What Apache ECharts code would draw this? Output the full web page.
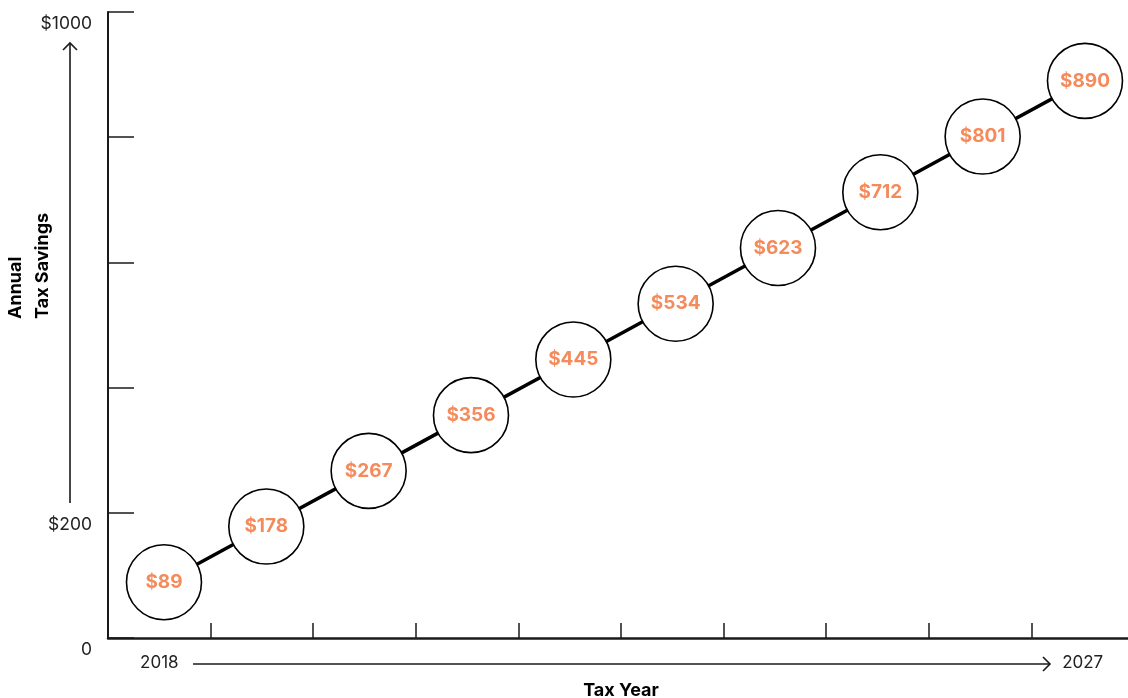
<!DOCTYPE html>
<html>
<head>
<meta charset="utf-8">
<script src="https://cdn.jsdelivr.net/npm/echarts@6/dist/echarts.min.js"></script>
<style>
html,body{margin:0;padding:0;background:#fff;}
#chart{width:1128px;height:698px;}
</style>
</head>
<body>
<div id="chart"></div>
<script>
// ---- data ----
const years = [2018, 2019, 2020, 2021, 2022, 2023, 2024, 2025, 2026, 2027];
const savings = [89, 178, 267, 356, 445, 534, 623, 712, 801, 890];
const yTickLabels = { 0: '0', 200: '$200', 1000: '$1000' };
const xTickLabels = { 2018: '2018', 2027: '2027' };
const xTitle = 'Tax Year';
const yTitle = 'Annual\nTax Savings';

const FONT = 'Inter, Lato, "Noto Sans", sans-serif';
const ORANGE = '#F58A5B';
const INK = '#1a1a1a';

const chart = echarts.init(document.getElementById('chart'));
chart.setOption({
  animation: false,
  backgroundColor: '#fff',
  grid: { left: 108, right: -6, top: 12, bottom: 60, containLabel: false, outerBoundsMode: 'none' },
  xAxis: [
    {
      type: 'category',
      data: years.map(String),
      boundaryGap: true,
      axisLine: { show: true, lineStyle: { color: INK, width: 2.5 } },
      axisTick: { show: true, inside: true, length: 15, lineStyle: { color: INK, width: 1.5 } },
      axisLabel: {
        interval: 0, margin: 16,
        formatter: v => xTickLabels[v] || '',
        color: '#222', fontFamily: FONT, fontSize: 17
      },
      splitLine: { show: false },
      name: xTitle, nameLocation: 'middle', nameGap: 44,
      nameTextStyle: { color: '#000', fontFamily: FONT, fontWeight: 'bold', fontSize: 18 }
    },
    {
      type: 'value',
      show: false,
      min: 2017.453,
      max: 2027.479
    }
  ],
  yAxis: {
    type: 'value',
    min: 0, max: 1000, interval: 200,
    axisLine: { show: true, lineStyle: { color: INK, width: 2 } },
    axisTick: { show: true, inside: true, length: 26, lineStyle: { color: INK, width: 1.5 } },
    axisLabel: {
      margin: 16,
      verticalAlign: 'top',
      padding: [3, 0, 0, 0],
      formatter: v => yTickLabels[v] || '',
      color: '#222', fontFamily: FONT, fontSize: 17.5
    },
    splitLine: { show: false }
  },
  series: [{
    type: 'line',
    xAxisIndex: 1,
    data: years.map((y, i) => [y, savings[i]]),
    symbol: 'circle',
    symbolSize: 75,
    showAllSymbol: true,
    lineStyle: { color: '#000', width: 3.5 },
    itemStyle: { color: '#fff', borderColor: '#000', borderWidth: 1.6 },
    label: {
      show: true, position: 'inside',
      formatter: p => '$' + p.value[1],
      color: ORANGE, fontFamily: FONT, fontWeight: 'bold', fontSize: 19
    },
    emphasis: { disabled: true },
    z: 3
  }],
  graphic: [
    // y title
    {
      type: 'text', x: 29, y: 319, rotation: Math.PI / 2,
      style: {
        text: yTitle, fill: '#000', font: 'bold 18px ' + FONT,
        align: 'left', verticalAlign: 'middle', lineHeight: 27
      }
    },
    // y arrow
    { type: 'line', shape: { x1: 70, y1: 503, x2: 70, y2: 43 }, style: { stroke: INK, lineWidth: 1.6 } },
    { type: 'polyline', shape: { points: [[63, 50], [70, 43], [77, 50]] }, style: { stroke: INK, lineWidth: 1.6, fill: null } },
    // x arrow
    { type: 'line', shape: { x1: 193, y1: 664, x2: 1050, y2: 664 }, style: { stroke: INK, lineWidth: 1.6 } },
    { type: 'polyline', shape: { points: [[1043, 657], [1050, 664], [1043, 671]] }, style: { stroke: INK, lineWidth: 1.6, fill: null } }
  ]
});
</script>
</body>
</html>
